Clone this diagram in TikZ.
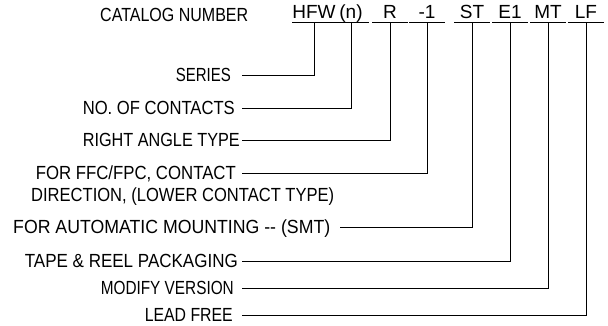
\documentclass[tikz,border=0pt]{standalone}
\usepackage{fontspec}
\setmainfont{Liberation Sans}
\usepackage{graphicx}
\newcommand{\fitw}[2]{\resizebox{#1pt}{\height}{#2}}
\begin{document}
\begin{tikzpicture}[x=1pt,y=-1pt,
  lab/.style={inner sep=0pt, text height=13pt, text depth=0pt, font=\fontsize{19}{22}\selectfont},
  code/.style={lab, minimum width=35pt, text depth=4.5pt},
  wire/.style={line width=1pt, black}]
\useasboundingbox (0,0) rectangle (608,325);

\node[lab, anchor=west] (cat) at (100,15) {\fitw{148}{CATALOG NUMBER}};

\node[code, minimum width=36pt] (hfw) at (314,14) {HFW};
\node[code] (n)   at (351,14) {(n)};
\node[code] (r)   at (390,14) {R};
\node[code] (m1)  at (427,14) {-1};
\node[code] (st)  at (472,14) {ST};
\node[code] (e1)  at (510,14) {E1};
\node[code] (mt)  at (548,14) {MT};
\node[code] (lf)  at (586,14) {LF};

\foreach \c in {hfw,n,r,m1,st,e1,mt,lf}
  \draw[wire] (\c.south west) -- (\c.south east);

\node[lab, anchor=east] (series) at (231,75)  {\fitw{55}{SERIES}};
\node[lab, anchor=east] (noc)    at (235,108) {\fitw{152}{NO. OF CONTACTS}};
\node[lab, anchor=east] (rat)    at (240,140) {\fitw{157}{RIGHT ANGLE TYPE}};
\node[lab, anchor=east] (ffc)    at (236,173) {\fitw{200}{FOR FFC/FPC, CONTACT}};
\node[lab, anchor=west] (dir)    at (31,195)  {\fitw{303}{DIRECTION, (LOWER CONTACT TYPE)}};
\node[lab, anchor=west] (smt)    at (13,227)  {\fitw{317}{FOR AUTOMATIC MOUNTING -{}- (SMT)}};
\node[lab, anchor=east] (tape)   at (238,261) {\fitw{213}{TAPE \& REEL PACKAGING}};
\node[lab, anchor=east] (mod)    at (234,288) {\fitw{133}{MODIFY VERSION}};
\node[lab, anchor=east] (lead)   at (233,315) {\fitw{88}{LEAD FREE}};

\coordinate (ls) at (242,0);
\draw[wire] (hfw.south) |- (series.east -| ls);
\draw[wire] (n.south)   |- (noc.east -| ls);
\draw[wire] (r.south)   |- (rat.east -| ls);
\draw[wire] (m1.south)  |- (ffc.east -| ls);
\draw[wire] (st.south)  |- ([xshift=10pt]smt.east);
\draw[wire] (e1.south)  |- (tape.east -| ls);
\draw[wire] (mt.south)  |- (mod.east -| ls);
\draw[wire] (lf.south)  |- (lead.east -| ls);
\end{tikzpicture}
\end{document}
